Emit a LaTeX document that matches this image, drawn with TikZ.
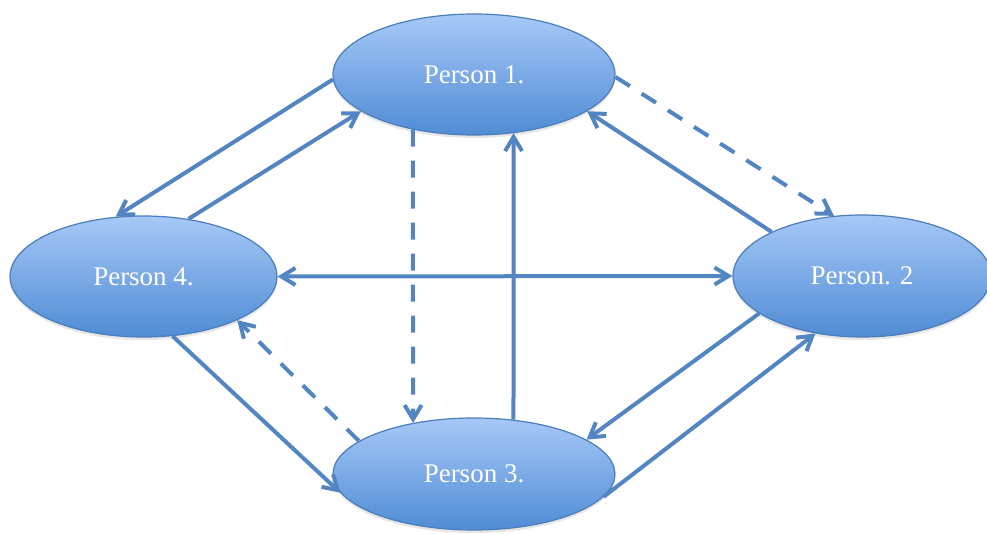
\documentclass[tikz,border=0pt]{standalone}
\usepackage{fontspec}
\setmainfont{Liberation Serif}
\usetikzlibrary{shapes.geometric,arrows.meta,shadows}
\definecolor{linkblue}{RGB}{82,133,194}
\definecolor{rimblue}{RGB}{74,126,187}
\definecolor{topblue}{RGB}{166,200,247}
\definecolor{bottomblue}{RGB}{80,140,213}

\begin{document}
\begin{tikzpicture}
  [x=1pt, y=-1pt, >={Straight Barb[length=14pt,width=17pt]},
   person/.style={ellipse, draw=rimblue, line width=1.2pt, top color=topblue,
     bottom color=bottomblue, text=white, inner sep=0pt,
     font=\fontsize{27}{31}\selectfont,
     drop shadow={shadow xshift=0pt, shadow yshift=-3pt, opacity=.2}},
   link/.style={draw=linkblue, line width=4pt},
   hint/.style={link, dash pattern=on 17pt off 14pt}]
  \useasboundingbox (0,0) rectangle (987,534);
  \node[person, minimum width=282pt, minimum height=121pt] (p1) at (474, 74.5) {Person 1.};
  \node[person, minimum width=267pt, minimum height=121pt] (p4) at (143.5, 276.5) {Person 4.};
  \node[person, minimum width=258pt, minimum height=122pt] (p2) at (862, 276) {Person. 2};
  \node[person, minimum width=282pt, minimum height=112pt] (p3) at (474, 474) {Person 3.};

  \foreach \from/\to in {p1.182/p4.115,p4.52/p1.198,p3.54/p1.304,p2.154/p1.342,
                         p4.296/p3.188,p2.200/p3.17,p3.350/p2.231}
  \draw[link, ->] (\from) -- (\to);
  \foreach \from/\to in {p1.222/p3.140,p1.359/p2.115,p3.164/p4.335}
  \draw[hint, ->] (\from) -- (\to);
  \draw[link, <->] (p4.east) -- (p2.west);

\end{tikzpicture}
\end{document}
